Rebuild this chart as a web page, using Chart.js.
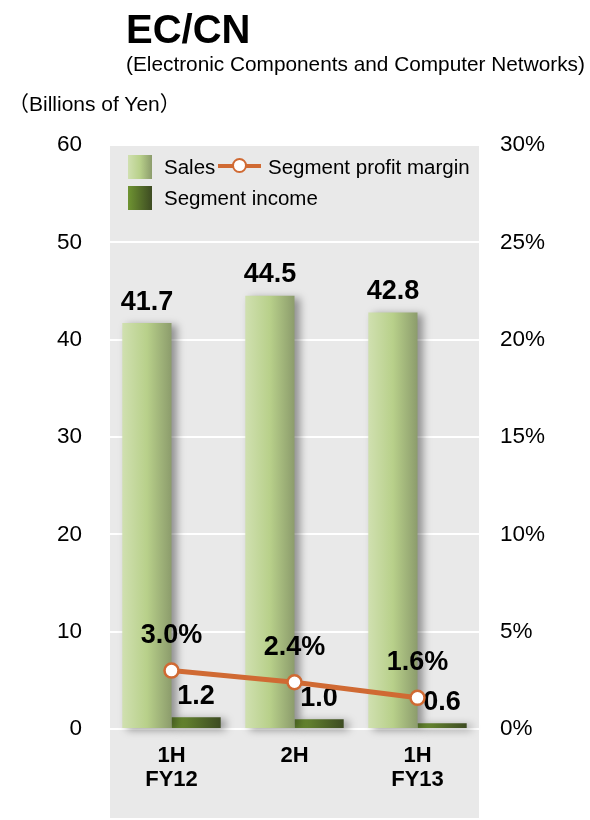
<!DOCTYPE html>
<html>
<head>
<meta charset="utf-8">
<script src="https://cdn.jsdelivr.net/npm/chart.js@4/dist/chart.umd.min.js"></script>
<style>
  html, body { margin: 0; padding: 0; background: #fff; }
  body { width: 590px; height: 820px; position: relative; overflow: hidden;
         font-family: "Liberation Sans", Arial, "Noto Sans CJK JP", sans-serif; color: #000; }
  #wrap { position: absolute; left: 0; top: 0; width: 590px; height: 820px; }
  .t { position: absolute; white-space: nowrap; line-height: 1; }
  #title { left: 126px; top: 9px; font-size: 40px; font-weight: bold; }
  #sub { left: 126px; top: 54px; font-size: 20.8px; }
  #unit { left: 8px; top: 93px; font-size: 21px; font-family: "Liberation Sans", Arial, "Noto Sans CJK JP", sans-serif; }
  .sw { position: absolute; width: 24px; height: 24px; }
  #swSales { left: 128px; top: 155px; background: linear-gradient(to right, #d0e0b0, #b8d08a 50%, #8c9c6c); }
  #swInc { left: 128px; top: 186px; background: linear-gradient(to right, #6f9432, #3d4b22); }
  #lgLine { position: absolute; left: 218px; top: 164px; width: 43px; height: 4px; background: #d06a33; }
  #lgDot { position: absolute; left: 232px; top: 158px; width: 11px; height: 11px; border-radius: 50%;
           background: #fff; border: 2.5px solid #d06a33; }
  .lg { font-size: 20.5px; }
</style>
</head>
<body>
<div id="wrap"><canvas id="c" width="590" height="820"></canvas></div>
<div class="t" id="title">EC/CN</div>
<div class="t" id="sub">(Electronic Components and Computer Networks)</div>
<div class="t" id="unit">（Billions of Yen）</div>
<div class="sw" id="swSales"></div>
<div class="t lg" style="left:164px; top:157px;">Sales</div>
<div id="lgLine"></div>
<div id="lgDot"></div>
<div class="t lg" style="left:268px; top:157px;">Segment profit margin</div>
<div class="sw" id="swInc"></div>
<div class="t lg" style="left:164px; top:188px;">Segment income</div>
<script>
// ---- data ----
const categories = [["1H", "FY12"], "2H", ["1H", "FY13"]];
const salesValues = [41.7, 44.5, 42.8];
const incomeValues = [1.2, 1.0, 0.6];
const marginValues = [3.0, 2.4, 1.6];
const leftAxisRange = [0, 60];
const leftAxisStep = 10;
const rightAxisRange = [0, 30];
const rightAxisStep = 5;

const FONT = '"Liberation Sans", Arial, sans-serif';

function barGradient(ctx, side, stops, fallback) {
  const chart = ctx.chart;
  const xs = chart.scales && chart.scales.x;
  if (!chart.chartArea || !xs || ctx.dataIndex === undefined) return fallback;
  const c = xs.getPixelForValue(ctx.dataIndex);
  const w = (xs.width / categories.length) * 0.8 / 2;
  const x0 = side === 'left' ? c - w : c;
  const g = chart.ctx.createLinearGradient(x0, 0, x0 + w, 0);
  stops.forEach(s => g.addColorStop(s[0], s[1]));
  return g;
}

const bgPlugin = {
  id: 'plotBg',
  beforeDraw(chart) {
    const a = chart.chartArea, ctx = chart.ctx;
    ctx.save();
    ctx.fillStyle = '#e9e9e9';
    ctx.fillRect(a.left, a.top - 1, a.right - a.left, 818 - (a.top - 1));
    ctx.restore();
  }
};

const fxPlugin = {
  id: 'barFx',
  beforeDatasetDraw(chart, args) {
    const ds = chart.data.datasets[args.index];
    if (ds.type === 'bar') {
      const ctx = chart.ctx;
      ctx.save();
      ctx.shadowColor = 'rgba(0,0,0,0.38)';
      ctx.shadowBlur = 8;
      ctx.shadowOffsetX = 5;
      ctx.shadowOffsetY = 2;
    }
  },
  afterDatasetDraw(chart, args) {
    const ds = chart.data.datasets[args.index];
    if (ds.type !== 'bar') return;
    const ctx = chart.ctx;
    ctx.restore();
    ctx.save();
    ctx.font = 'bold 27px ' + FONT;
    ctx.fillStyle = '#000';
    ctx.textAlign = 'center';
    ctx.textBaseline = 'middle';
    args.meta.data.forEach((el, i) => {
      ctx.fillText(ds.data[i].toFixed(1), el.x, el.y - 21);
    });
    ctx.restore();
  },
  afterDatasetsDraw(chart) {
    const ctx = chart.ctx;
    chart.data.datasets.forEach((ds, di) => {
      if (ds.type !== 'line') return;
      const meta = chart.getDatasetMeta(di);
      ctx.save();
      ctx.font = 'bold 27px ' + FONT;
      ctx.fillStyle = '#000';
      ctx.textAlign = 'center';
      ctx.textBaseline = 'middle';
      meta.data.forEach((el, i) => {
        ctx.fillText(ds.data[i].toFixed(1) + '%', el.x, el.y - 35);
      });
      ctx.restore();
    });
  }
};

new Chart(document.getElementById('c'), {
  data: {
    labels: categories,
    datasets: [
      {
        type: 'line', label: 'Segment profit margin', data: marginValues, yAxisID: 'y2',
        order: 0, borderColor: '#d06a33', borderWidth: 5,
        pointRadius: 7, pointHoverRadius: 7, pointBorderWidth: 2.5,
        pointBackgroundColor: '#ffffff', pointBorderColor: '#d06a33', tension: 0
      },
      {
        type: 'bar', label: 'Sales', data: salesValues, yAxisID: 'y', order: 1,
        categoryPercentage: 0.8, barPercentage: 1.0, borderWidth: 0, clip: false,
        backgroundColor: ctx => barGradient(ctx, 'left',
          [[0, '#d0e0b0'], [0.5, '#b8d08a'], [1, '#8c9c6c']], '#b8d08a')
      },
      {
        type: 'bar', label: 'Segment income', data: incomeValues, yAxisID: 'y', order: 1,
        categoryPercentage: 0.8, barPercentage: 1.0, borderWidth: 0, clip: false,
        backgroundColor: ctx => barGradient(ctx, 'right',
          [[0, '#6f9432'], [1, '#3d4b22']], '#55702a')
      }
    ]
  },
  options: {
    responsive: false,
    animation: false,
    events: [],
    layout: { padding: { top: 145, left: 0, right: 0, bottom: 0 } },
    plugins: { legend: { display: false }, tooltip: { enabled: false }, title: { display: false } },
    scales: {
      x: {
        grid: { display: false, drawTicks: false },
        border: { display: false },
        ticks: { color: '#000', padding: 15, font: { family: FONT, size: 22, weight: 'bold', lineHeight: 1.1 }, maxRotation: 0 },
        afterFit: s => { s.height = 91; }
      },
      y: {
        position: 'left',
        min: leftAxisRange[0], max: leftAxisRange[1],
        grid: { color: '#ffffff', lineWidth: 2, drawTicks: false },
        border: { display: false },
        ticks: { stepSize: leftAxisStep, color: '#000', padding: 28, font: { family: FONT, size: 22.5 } },
        afterFit: s => { s.width = 110; }
      },
      y2: {
        position: 'right',
        min: rightAxisRange[0], max: rightAxisRange[1],
        grid: { display: false, drawTicks: false },
        border: { display: false },
        ticks: { stepSize: rightAxisStep, color: '#000', padding: 21, font: { family: FONT, size: 22.5 },
                 callback: v => v + '%' },
        afterFit: s => { s.width = 111; }
      }
    }
  },
  plugins: [bgPlugin, fxPlugin]
});
</script>
</body>
</html>
